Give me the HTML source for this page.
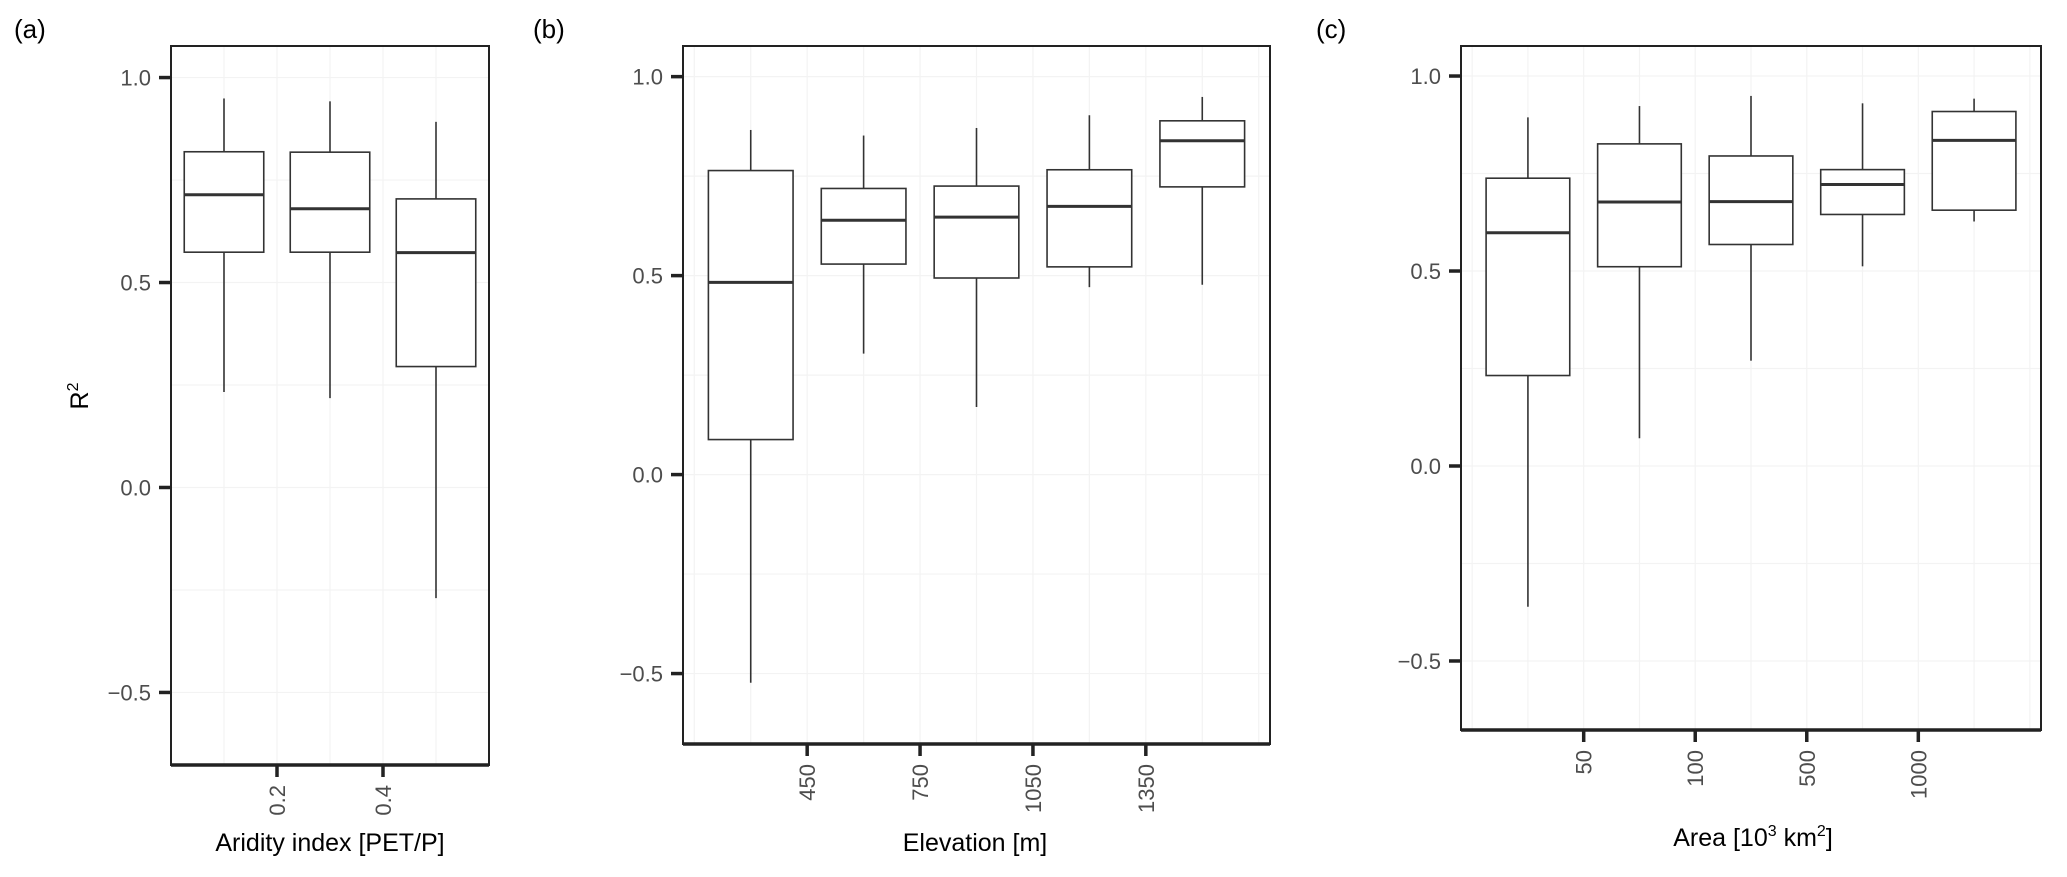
<!DOCTYPE html>
<html><head><meta charset="utf-8"><style>
html,body{margin:0;padding:0;background:#fff;}
svg{display:block;font-family:"Liberation Sans",Arial,sans-serif;}
</style></head><body>
<svg id="chart" width="2067" height="877" viewBox="0 0 2067 877" xmlns="http://www.w3.org/2000/svg">
<text x="14" y="38" font-size="26" fill="#000">(a)</text>
<text x="533" y="38" font-size="26" fill="#000">(b)</text>
<text x="1316" y="38" font-size="26" fill="#000">(c)</text>
<text transform="translate(88,396) rotate(-90)" text-anchor="middle" font-size="25" fill="#000">R<tspan dy="-10" font-size="16">2</tspan></text>
<text x="330" y="851" text-anchor="middle" font-size="25" fill="#000">Aridity index [PET/P]</text>
<text x="975" y="851" text-anchor="middle" font-size="25" fill="#000">Elevation [m]</text>
<text x="1753" y="846" text-anchor="middle" font-size="25" fill="#000">Area [10<tspan dy="-10" font-size="16">3</tspan><tspan dy="10"> km</tspan><tspan dy="-10" font-size="16">2</tspan><tspan dy="10">]</tspan></text>
</svg>
<script>
// Panel (a): aridity index
const aWmin = [0.233, 0.218, -0.270];
const aQ1   = [0.574, 0.574, 0.295];
const aMed  = [0.714, 0.680, 0.573];
const aQ3   = [0.819, 0.818, 0.704];
const aWmax = [0.949, 0.942, 0.892];
const aTickLabels = ["0.2", "0.4"];
// Panel (b): elevation
const bWmin = [-0.523, 0.304, 0.170, 0.471, 0.477];
const bQ1   = [0.088, 0.529, 0.494, 0.522, 0.723];
const bMed  = [0.483, 0.639, 0.647, 0.674, 0.839];
const bQ3   = [0.764, 0.719, 0.725, 0.766, 0.889];
const bWmax = [0.866, 0.852, 0.871, 0.903, 0.949];
const bTickLabels = ["450", "750", "1050", "1350"];
// Panel (c): area
const cWmin = [-0.361, 0.071, 0.270, 0.512, 0.627];
const cQ1   = [0.232, 0.511, 0.568, 0.645, 0.656];
const cMed  = [0.598, 0.677, 0.678, 0.722, 0.835];
const cQ3   = [0.738, 0.826, 0.795, 0.760, 0.909];
const cWmax = [0.894, 0.923, 0.949, 0.930, 0.942];
const cTickLabels = ["50", "100", "500", "1000"];
const yTicks = [-0.5, 0, 0.5, 1.0];
const yTickLabels = ["\u22120.5", "0.0", "0.5", "1.0"];

const NS = "http://www.w3.org/2000/svg";
const svg = document.getElementById("chart");
function mk(tag, attrs, parent) {
  const e = document.createElementNS(NS, tag);
  for (const k in attrs) e.setAttribute(k, attrs[k]);
  (parent || svg).appendChild(e);
  return e;
}
const YMIN = -0.677, YMAX = 1.077;

function panel(id, L, R, T, B, expand, wmin, q1, med, q3, wmax, tickLabels) {
  const g = mk("g", {});
  
  
  const n = med.length;
  const span = (n - 1) + 2 * expand;
  const xs = i => L + (i + expand) / span * (R - L);
  const ys = v => T + (YMAX - v) / (YMAX - YMIN) * (B - T);
  const unit = (R - L) / span;
  for (let v = -0.5; v <= 1.0001; v += 0.25) {
    const gl = mk("line", {x1: L, x2: R, y1: ys(v), y2: ys(v), stroke: "#f3f3f3", "stroke-width": 1.2}, g);
    
    
  }
  for (let k = -0.5; k <= n - 0.5 + 1e-9; k += 0.5) {
    const gl = mk("line", {x1: xs(k), x2: xs(k), y1: T, y2: B, stroke: "#f3f3f3", "stroke-width": 1.2}, g);
    
    
  }
  const bw = unit * 0.75;
  for (let i = 0; i < n; i++) {
    const cx = xs(i);
    const bg = mk("g", {}, g);
    
    
    mk("line", {x1: cx, x2: cx, y1: ys(wmax[i]), y2: ys(q3[i]), stroke: "#333", "stroke-width": 1.6}, bg);
    mk("line", {x1: cx, x2: cx, y1: ys(q1[i]), y2: ys(wmin[i]), stroke: "#333", "stroke-width": 1.6}, bg);
    mk("rect", {x: cx - bw / 2, y: ys(q3[i]), width: bw, height: ys(q1[i]) - ys(q3[i]), fill: "#fff", stroke: "#333", "stroke-width": 1.6}, bg);
    mk("line", {x1: cx - bw / 2, x2: cx + bw / 2, y1: ys(med[i]), y2: ys(med[i]), stroke: "#333", "stroke-width": 3}, bg);
  }
  const fr = mk("rect", {x: L, y: T, width: R - L, height: B - T, fill: "none", stroke: "#222", "stroke-width": 2}, g);
  
  
  mk("line", {x1: L, x2: R, y1: B, y2: B, stroke: "#222", "stroke-width": 3.5}, g);
  yTicks.forEach((v, j) => {
    mk("line", {x1: L - 12, x2: L, y1: ys(v), y2: ys(v), stroke: "#222", "stroke-width": 3.5}, g);
    const t = mk("text", {x: L - 20, y: ys(v) + 8, "text-anchor": "end", "font-size": 22, fill: "#4d4d4d"}, g);
    t.textContent = yTickLabels[j];
    
    
  });
  tickLabels.forEach((lab, j) => {
    const x = xs(j + 0.5);
    mk("line", {x1: x, x2: x, y1: B, y2: B + 12, stroke: "#222", "stroke-width": 3.5}, g);
    const t = mk("text", {transform: "translate(" + (x + 8) + "," + (B + 20) + ") rotate(-90)", "text-anchor": "end", "font-size": 22, fill: "#4d4d4d"}, g);
    t.textContent = lab;
    
    
  });
}
panel("a", 171, 489, 46, 765, 0.5, aWmin, aQ1, aMed, aQ3, aWmax, aTickLabels);
panel("b", 683, 1270, 46, 744, 0.6, bWmin, bQ1, bMed, bQ3, bWmax, bTickLabels);
panel("c", 1461, 2041, 46, 730, 0.6, cWmin, cQ1, cMed, cQ3, cWmax, cTickLabels);
</script>
</body></html>
